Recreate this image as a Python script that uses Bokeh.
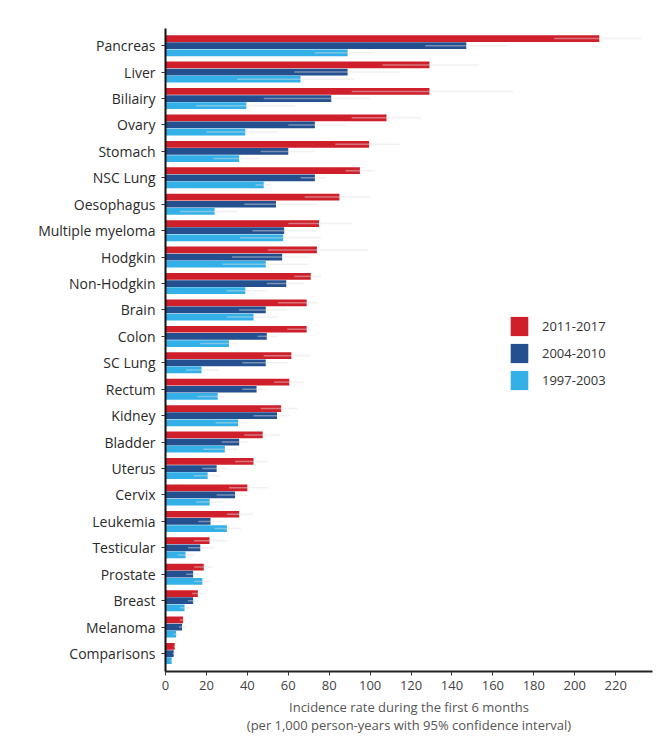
from bokeh.plotting import figure
from bokeh.models import (ColumnDataSource, FixedTicker, Legend, LegendItem)
from bokeh.embed import file_html
from bokeh.resources import INLINE

# ---------------- data ----------------
categories = ["Pancreas", "Liver", "Biliairy", "Ovary", "Stomach", "NSC Lung",
              "Oesophagus", "Multiple myeloma", "Hodgkin", "Non-Hodgkin", "Brain",
              "Colon", "SC Lung", "Rectum", "Kidney", "Bladder", "Uterus", "Cervix",
              "Leukemia", "Testicular", "Prostate", "Breast", "Melanoma", "Comparisons"]

series_names = ["2011-2017", "2004-2010", "1997-2003"]

rate_2011 = [212, 129, 129, 108, 99.5, 95, 85, 75, 74, 71, 69, 69, 61.5, 60.5, 56.5,
             47.5, 43, 40, 36, 21.5, 18.7, 15.8, 8.6, 4.5]
rate_2004 = [147, 89, 81, 73, 60, 73, 54, 58, 57, 59, 49, 49.5, 49, 44.5, 54.5,
             36, 25, 34, 22, 17, 13.5, 13.5, 8.1, 4.0]
rate_1997 = [89, 66, 39.5, 39, 36, 48, 24, 57.5, 49, 39, 43, 31, 17.6, 25.5, 35.5,
             29, 20.6, 21.6, 30, 9.8, 18, 9.3, 5.2, 3.0]

low_2011 = [190, 106, 91, 91, 83, 88, 68, 60, 50, 63, 55, 59.5, 48, 53, 46.5,
            38.5, 34, 31, 30, 14, 14, 13, 7, 4.0]
high_2011 = [233, 153, 170, 125, 115, 102, 100, 91, 99, 76, 74, 71, 71, 68, 64.5,
             56, 50, 50, 43, 30, 23, 19, 10, 5.0]
low_2004 = [127, 63, 48, 60, 46.5, 66, 38.5, 42.5, 32.5, 49.5, 36, 45, 37.5, 37.5, 43,
            27.5, 18, 25, 16, 11, 10, 11, 6.5, 3.5]
high_2004 = [167, 115, 100, 88, 73, 78, 74, 74, 70, 68, 59.5, 54.5, 59.5, 49.5, 61,
             40, 30, 40, 28, 24, 17, 16, 10, 4.5]
low_1997 = [73, 35, 15, 20, 23.5, 44, 7, 36.5, 28, 30, 30, 17, 10, 15.5, 24.5,
            18.5, 14, 15, 24, 6, 14, 7, 4, 2.6]
high_1997 = [102, 92, 63, 55, 46, 51, 35, 76, 70, 50, 54.5, 35, 26, 28.5, 40,
             35, 27, 28, 37, 14, 22, 12, 6.5, 3.4]

x_ticks = [0, 20, 40, 60, 80, 100, 120, 140, 160, 180, 200, 220]

colors = ["#cf1f2b", "#24508f", "#33b0e8"]

# ---------------- figure ----------------
n = len(categories)
ypos = [n - 1 - i for i in range(n)]

p = figure(width=659, height=746, output_backend="svg", toolbar_location=None,
           x_range=(0, 238), y_range=(-0.68, n - 1 + 0.65),
           min_border_left=165, min_border_right=7, min_border_top=28,
           min_border_bottom=75)
p.outline_line_color = None
p.xgrid.visible = False
p.ygrid.visible = False
p.background_fill_color = "white"

offsets = [0.27, 0.0, -0.27]
rates = [rate_2011, rate_2004, rate_1997]
lows = [low_2011, low_2004, low_1997]
highs = [high_2011, high_2004, high_1997]

renderers = []
for k in range(3):
    ys = [y + offsets[k] for y in ypos]
    src = ColumnDataSource(dict(y=ys, right=rates[k], lo=lows[k], hi=highs[k]))
    r = p.hbar(y="y", right="right", left=0, height=0.255, source=src,
               fill_color=colors[k], line_color=None)
    renderers.append(r)
    p.segment(x0="lo", x1="hi", y0="y", y1="y", source=src,
              line_color="#e0e0e0", line_alpha=0.45, line_width=1.5)

# ---------------- axes ----------------
p.yaxis.ticker = FixedTicker(ticks=ypos)
p.yaxis.major_label_overrides = {ypos[i]: categories[i] for i in range(n)}
p.yaxis.major_label_text_font = "Open Sans"
p.yaxis.major_label_text_font_size = "14px"
p.yaxis.major_label_text_color = "#2a2a2a"
p.yaxis.major_label_standoff = 6
p.yaxis.major_tick_out = 4
p.yaxis.major_tick_in = 0
p.yaxis.minor_tick_line_color = None
p.yaxis.axis_line_color = "#111111"
p.yaxis.axis_line_width = 2
p.yaxis.major_tick_line_color = "#333333"

p.xaxis.ticker = FixedTicker(ticks=x_ticks)
p.xaxis.major_label_text_font = "Open Sans"
p.xaxis.major_label_text_font_size = "13px"
p.xaxis.major_label_text_color = "#444444"
p.xaxis.major_label_standoff = 5
p.xaxis.major_tick_out = 4
p.xaxis.major_tick_in = 0
p.xaxis.minor_tick_line_color = None
p.xaxis.axis_line_color = "#222222"
p.xaxis.axis_line_width = 2
p.xaxis.major_tick_line_color = "#333333"
p.xaxis.axis_label = ("Incidence rate during the first 6 months\n"
                      "(per 1,000 person-years with 95% confidence interval)")
p.xaxis.axis_label_text_font = "Open Sans"
p.xaxis.axis_label_text_font_size = "13px"
p.xaxis.axis_label_text_font_style = "normal"
p.xaxis.axis_label_text_color = "#555555"
p.xaxis.axis_label_text_line_height = 1.05
p.xaxis.axis_label_standoff = 5

# ---------------- legend ----------------
legend = Legend(items=[LegendItem(label=series_names[k], renderers=[renderers[k]])
                       for k in range(3)],
                location=(343, 279), orientation="vertical",
                glyph_width=22, glyph_height=24, spacing=3, padding=0, margin=0,
                label_standoff=12, label_text_font="Open Sans",
                label_text_font_size="13px", label_text_color="#333333",
                border_line_color=None, background_fill_alpha=0)
p.add_layout(legend, "center")

open("out.html", "w").write(file_html(p, INLINE))
